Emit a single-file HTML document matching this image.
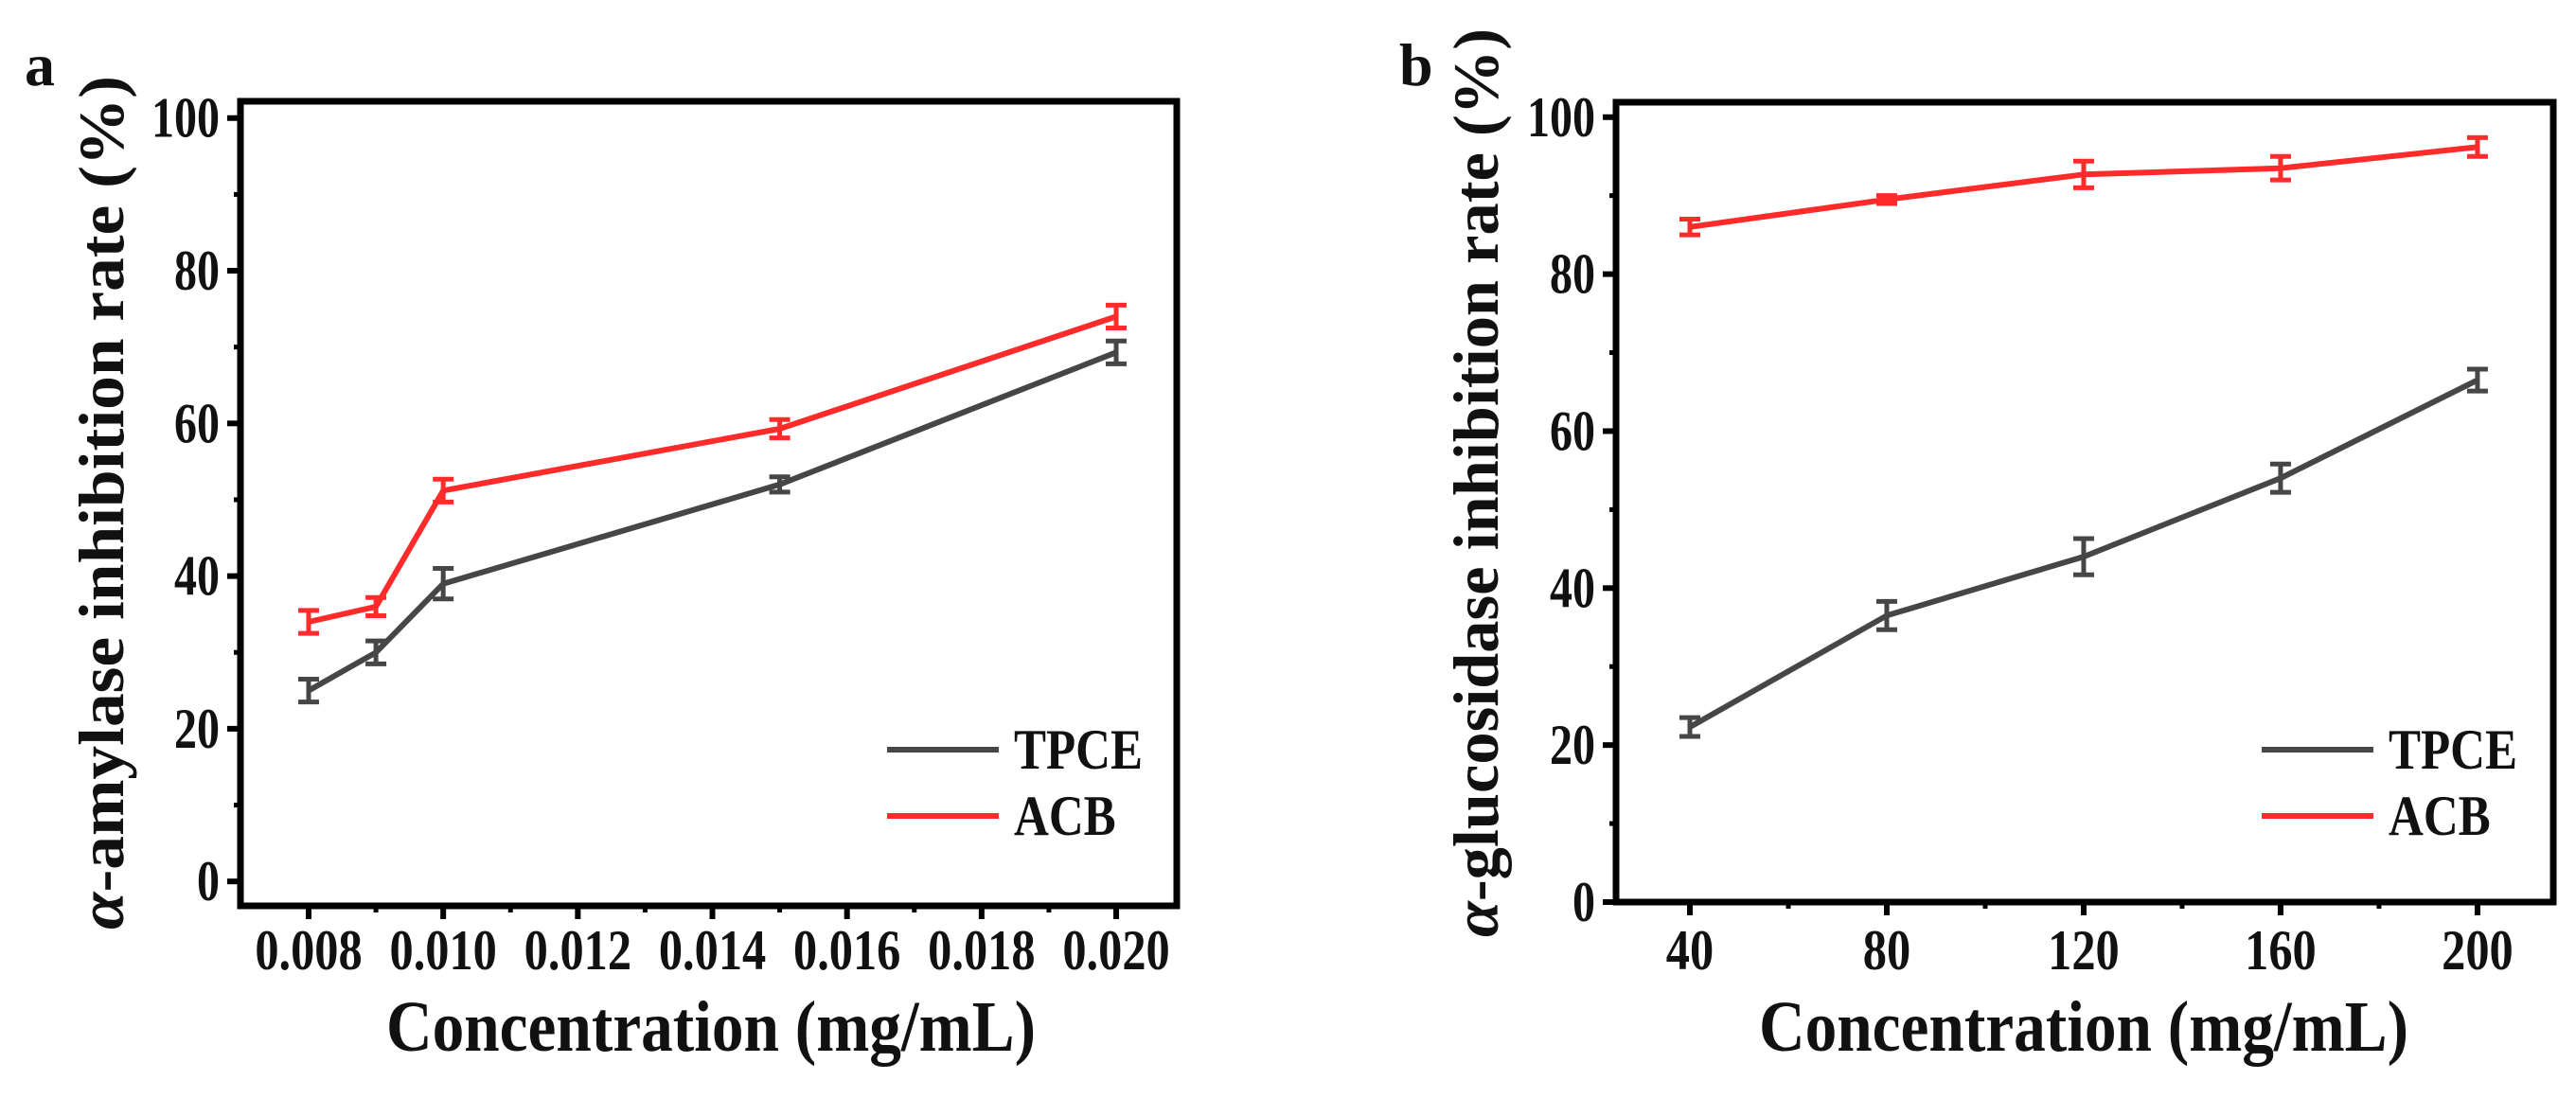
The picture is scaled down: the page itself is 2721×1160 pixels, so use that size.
<!DOCTYPE html>
<html><head><meta charset="utf-8"><style>
html,body{margin:0;padding:0;background:#fff;}
svg{display:block;}
text{font-family:"Liberation Serif",serif;font-weight:bold;fill:#111;}
</style></head><body>
<svg id="fig" width="2721" height="1160" viewBox="0 0 2721 1160"></svg>
<script>
// Panel a data
const xA = [0.008, 0.009, 0.010, 0.015, 0.020];
const tpceA = [25, 30, 39, 52, 69.3];
const tpceAErr = [1.5, 1.5, 2.0, 1.0, 1.5];
const acbA = [34, 36, 51.2, 59.3, 74];
const acbAErr = [1.5, 1.2, 1.5, 1.2, 1.5];
const xTicksA = [0.008, 0.010, 0.012, 0.014, 0.016, 0.018, 0.020];
const xTickLabelsA = ["0.008","0.010","0.012","0.014","0.016","0.018","0.020"];
const yTicks = [0, 20, 40, 60, 80, 100];
// Panel b data
const xB = [40, 80, 120, 160, 200];
const tpceB = [22.3, 36.5, 44, 54, 66.5];
const tpceBErr = [1.2, 1.8, 2.3, 1.8, 1.4];
const acbB = [86, 89.5, 92.7, 93.5, 96.2];
const acbBErr = [1.0, 0.5, 1.7, 1.5, 1.2];
const xTicksB = [40, 80, 120, 160, 200];
const xTickLabelsB = ["40","80","120","160","200"];

const NS = "http://www.w3.org/2000/svg";
const svg = document.getElementById('fig');
function mk(tag, attrs, parent, name, txt){
  const e = document.createElementNS(NS, tag);
  for (const k in attrs) e.setAttribute(k, attrs[k]);
  
  
  if (txt !== undefined) e.textContent = txt;
  (parent||svg).appendChild(e);
  return e;
}

function panel(cfg){
  const g = mk('g', {}, svg, cfg.name);
  const X = v => cfg.fx + (v - cfg.xmin) / (cfg.xmax - cfg.xmin) * (cfg.fr - cfg.fx);
  const Y = v => cfg.fb - (v - cfg.ymin) / (cfg.ymax - cfg.ymin) * (cfg.fb - cfg.ft);
  cfg.yTicks.forEach((t, i) => {
    mk('line', {x1: cfg.fx - 14, x2: cfg.fx, y1: Y(t), y2: Y(t), stroke: '#000', 'stroke-width': 6}, g, 'y-tick');
    mk('text', {x: 0, y: 0, 'font-size': 60, 'text-anchor': 'end', transform: `translate(${cfg.fx - 22},${Y(t) + 20}) scale(0.8,1)`}, g, 'y-tick-label', String(t));
    if (i < cfg.yTicks.length - 1) {
      const m = (t + cfg.yTicks[i+1]) / 2;
      mk('line', {x1: cfg.fx - 7, x2: cfg.fx, y1: Y(m), y2: Y(m), stroke: '#000', 'stroke-width': 5}, g, 'y-minor-tick');
    }
  });
  cfg.xTicks.forEach((t, i) => {
    mk('line', {x1: X(t), x2: X(t), y1: cfg.fb, y2: cfg.fb + 14, stroke: '#000', 'stroke-width': 6}, g, 'x-tick');
    mk('text', {x: 0, y: 0, 'font-size': 60, 'text-anchor': 'middle', transform: `translate(${X(t)},1024) scale(0.84,1)`}, g, 'x-tick-label', cfg.xLabels[i]);
    if (i < cfg.xTicks.length - 1) {
      const m = (t + cfg.xTicks[i+1]) / 2;
      mk('line', {x1: X(m), x2: X(m), y1: cfg.fb, y2: cfg.fb + 7, stroke: '#000', 'stroke-width': 5}, g, 'x-minor-tick');
    }
  });
  mk('rect', {x: cfg.fx, y: cfg.ft, width: cfg.fr - cfg.fx, height: cfg.fb - cfg.ft, fill: 'none', stroke: '#000', 'stroke-width': 7}, g, 'plot-frame');
  cfg.series.forEach(s => {
    const pts = s.x.map((v, i) => X(v).toFixed(1) + ',' + Y(s.y[i]).toFixed(1)).join(' ');
    mk('polyline', {points: pts, fill: 'none', stroke: s.color, 'stroke-width': 6, 'stroke-linejoin': 'round'}, g, s.name + '-line');
    s.x.forEach((v, i) => {
      const cx = X(v), y1 = Y(s.y[i] + s.e[i]), y2 = Y(s.y[i] - s.e[i]);
      mk('path', {d: `M${cx},${y1}V${y2}M${cx-11},${y1}H${cx+11}M${cx-11},${y2}H${cx+11}`, stroke: s.color, 'stroke-width': 5, fill: 'none'}, g, s.name + '-error-bar');
    });
  });
  cfg.series.forEach((s, i) => {
    const ly = cfg.legY + i * 70;
    mk('line', {x1: cfg.legX, x2: cfg.legX + 118, y1: ly, y2: ly, stroke: s.color, 'stroke-width': 6}, g, 'legend-swatch-' + s.name);
    mk('text', {x: 0, y: 0, 'font-size': 60, transform: `translate(${cfg.legX + 134},${ly + 20}) scale(0.85,1)`}, g, 'legend-label-' + s.name, s.label);
  });
  mk('text', {x: cfg.xtx, y: 1110, 'font-size': 76, 'text-anchor': 'middle', textLength: 686, lengthAdjust: 'spacingAndGlyphs'}, g, 'x-axis-title', 'Concentration (mg/mL)');
  const yt = mk('text', {x: 0, y: 0, 'font-size': 68, 'text-anchor': 'middle', textLength: cfg.ytl, lengthAdjust: 'spacingAndGlyphs', transform: `translate(${cfg.ylx},${cfg.yly}) rotate(-90)`}, g, 'y-axis-title');
  const a = document.createElementNS(NS, 'tspan'); a.setAttribute('font-style', 'italic'); a.textContent = 'α';
  
  
  yt.appendChild(a); yt.appendChild(document.createTextNode(cfg.ytitle));
  mk('text', {x: cfg.letX, y: 90, 'font-size': 64}, g, 'panel-letter', cfg.letter);
}

panel({name: 'panel-a', fx: 254, fr: 1243, ft: 107, fb: 957, xmin: 0.006987, xmax: 0.0209, ymin: -3.2, ymax: 102.2,
  yTicks: yTicks, xTicks: xTicksA, xLabels: xTickLabelsA,
  series: [{name: 'tpce', label: 'TPCE', color: '#464646', x: xA, y: tpceA, e: tpceAErr},
           {name: 'acb', label: 'ACB', color: '#ff2b2b', x: xA, y: acbA, e: acbAErr}],
  legX: 937, legY: 792, ylx: 130, yly: 531, ytl: 902, xtx: 751, ytitle: '-amylase inhibition rate (%)', letter: 'a', letX: 26});

panel({name: 'panel-b', fx: 1707, fr: 2697, ft: 108, fb: 953, xmin: 25, xmax: 215.4, ymin: 0, ymax: 101.9,
  yTicks: yTicks, xTicks: xTicksB, xLabels: xTickLabelsB,
  series: [{name: 'tpce', label: 'TPCE', color: '#464646', x: xB, y: tpceB, e: tpceBErr},
           {name: 'acb', label: 'ACB', color: '#ff2b2b', x: xB, y: acbB, e: acbBErr}],
  legX: 2389, legY: 792, ylx: 1582, yly: 510, ytl: 960, xtx: 2201, ytitle: '-glucosidase inhibition rate (%)', letter: 'b', letX: 1478});
</script>
</body></html>
